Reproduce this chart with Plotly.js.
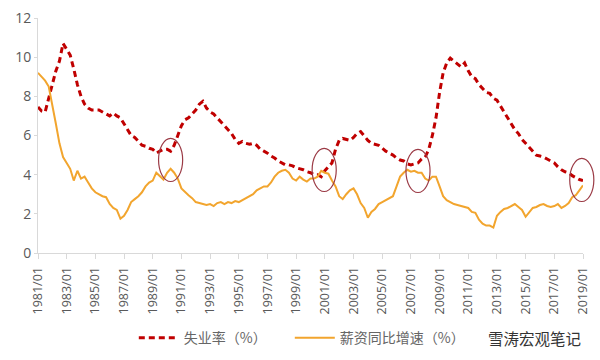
<!DOCTYPE html>
<html><head><meta charset="utf-8">
<script src="https://cdn.plot.ly/plotly-3.0.1.min.js"></script>
<style>html,body{margin:0;padding:0;background:#fff}#chart{width:600px;height:360px}</style>
</head><body><div id="chart"></div>
<script>
// Quarterly readings (Jan, Apr, Jul, Oct) from 1981/01 to 2019/01
const startYear = 1981;
const unemployment = [
  7.45, 7.25, 7.2, 7.9,
  8.6, 9.3, 9.8, 10.7,
  10.4, 10.1, 9.4, 8.6,
  8.0, 7.6, 7.4, 7.3,
  7.3, 7.3, 7.2, 7.1,
  7.0, 7.15, 7.0, 6.9,
  6.6, 6.3, 6.0, 5.9,
  5.7, 5.5, 5.45, 5.35,
  5.3, 5.1, 5.2, 5.3,
  5.3, 5.2, 5.5, 6.0,
  6.5, 6.8, 6.9, 7.1,
  7.3, 7.6, 7.75, 7.4,
  7.2, 7.1, 6.9, 6.7,
  6.55, 6.3, 6.1, 5.8,
  5.6, 5.7, 5.6, 5.55,
  5.6, 5.5, 5.3, 5.2,
  5.1, 4.95, 4.85, 4.7,
  4.6, 4.5, 4.5, 4.45,
  4.35, 4.3, 4.25, 4.15,
  4.1, 4.0, 4.0, 3.9,
  4.2, 4.4, 4.6, 5.3,
  5.75, 5.85, 5.8, 5.75,
  5.9, 6.1, 6.2, 5.95,
  5.75, 5.6, 5.55, 5.5,
  5.35, 5.2, 5.1, 5.0,
  4.85, 4.75, 4.7, 4.55,
  4.5, 4.55, 4.6, 4.8,
  4.9, 5.3, 6.0, 6.9,
  8.2, 9.2, 9.7, 9.95,
  9.8, 9.65, 9.5, 9.7,
  9.3, 9.0, 8.9, 8.6,
  8.4, 8.2, 8.15, 7.9,
  7.8, 7.5, 7.2, 6.9,
  6.6, 6.3, 6.1, 5.8,
  5.6, 5.4, 5.2, 5.0,
  4.95, 4.9, 4.8, 4.7,
  4.6, 4.4, 4.25, 4.15,
  4.1, 3.95, 3.85, 3.75,
  3.7
];
const wageGrowth = [
  9.2, 9.0, 8.8, 8.5,
  7.6, 6.6, 5.6, 4.9,
  4.6, 4.3, 3.7, 4.2,
  3.8, 3.9, 3.6, 3.3,
  3.1, 3.0, 2.9, 2.85,
  2.5, 2.3, 2.2, 1.75,
  1.9, 2.2, 2.6, 2.75,
  2.9, 3.1, 3.4, 3.6,
  3.7, 4.1, 3.9, 3.75,
  4.1, 4.3, 4.1, 3.8,
  3.3, 3.1, 2.95, 2.8,
  2.6, 2.55, 2.5, 2.45,
  2.5, 2.4, 2.55, 2.6,
  2.5, 2.6, 2.55, 2.65,
  2.6, 2.7, 2.8, 2.9,
  3.0, 3.2, 3.3, 3.4,
  3.4, 3.6, 3.9, 4.1,
  4.2, 4.25, 4.1, 3.8,
  3.7, 3.9, 3.75, 3.65,
  3.8, 3.8, 3.9, 4.2,
  4.1, 4.05, 3.7, 3.4,
  2.9, 2.75, 3.0, 3.2,
  3.3, 3.0, 2.55, 2.3,
  1.8, 2.1, 2.25, 2.5,
  2.6, 2.7, 2.8, 2.9,
  3.4, 3.9, 4.1, 4.25,
  4.15, 4.2, 4.1, 4.1,
  3.8, 3.7, 3.9, 3.9,
  3.4, 2.9, 2.7, 2.6,
  2.5, 2.45, 2.4, 2.35,
  2.3, 2.1, 2.05, 1.7,
  1.5, 1.4, 1.4, 1.3,
  1.9, 2.1, 2.25, 2.3,
  2.4, 2.5, 2.35, 2.2,
  1.85, 2.1, 2.3, 2.35,
  2.45, 2.5, 2.4, 2.35,
  2.4, 2.5, 2.3, 2.4,
  2.55, 2.85, 2.95, 3.2,
  3.45
];
const seriesNames = ['失业率（%）', '薪资同比增速（%）'];
// Highlighted crossing points (circled in the reference)
const highlightDates = ['1990-04-01', '2000-12-15', '2007-07-01', '2018-12-01'];
const highlightValues = [4.75, 4.24, 4.19, 3.73];

const xRange = ['1981-01-01', '2019-01-01'];
const yRange = [0, 12];

const dates = unemployment.map((_, i) => {
  const m = i * 3;
  const y = startYear + Math.floor(m / 12);
  const mo = (m % 12) + 1;
  return y + '-' + String(mo).padStart(2, '0') + '-01';
});

// Convert data positions to paper fractions via the axis ranges so the ellipses are not clipped
const ms = d => new Date(d + 'T00:00:00Z').getTime();
const t0 = ms(xRange[0]), t1 = ms(xRange[1]);
const DAY = 86400000;
const halfW = 0.84 * 365.25 * DAY, halfH = 1.1;
const toPx = t => (t - t0) / (t1 - t0);
const toPy = v => (v - yRange[0]) / (yRange[1] - yRange[0]);
const shapes = highlightDates.map((d, i) => {
  const t = ms(d);
  return {
    type: 'circle', xref: 'paper', yref: 'paper',
    x0: toPx(t - halfW), x1: toPx(t + halfW),
    y0: toPy(highlightValues[i] - halfH), y1: toPy(highlightValues[i] + halfH),
    line: {color: '#9b3a45', width: 1.2}
  };
});

const traces = [
  {x: dates, y: unemployment, name: seriesNames[0], type: 'scatter', mode: 'lines',
   legend: 'legend',
   line: {color: '#c00000', width: 3, dash: '6px,4px'}},
  {x: dates, y: wageGrowth, name: seriesNames[1], type: 'scatter', mode: 'lines',
   legend: 'legend2',
   line: {color: '#f2a52e', width: 2}}
];

const legendFont = {family: '"Noto Sans CJK SC", sans-serif', size: 14, color: '#666'};
const layout = {
  width: 600, height: 360,
  margin: {l: 38, r: 17, t: 18, b: 107},
  paper_bgcolor: '#fff', plot_bgcolor: '#fff',
  font: {family: '"Open Sans", "Noto Sans CJK SC", sans-serif', color: '#595959', size: 13},
  showlegend: true,
  legend: {orientation: 'h', xref: 'container', yref: 'container', x: 0.223, xanchor: 'left',
           y: 0.061, yanchor: 'middle', font: legendFont, itemwidth: 40, bgcolor: 'rgba(0,0,0,0)'},
  legend2: {orientation: 'h', xref: 'container', yref: 'container', x: 0.483, xanchor: 'left',
           y: 0.061, yanchor: 'middle', font: legendFont, itemwidth: 40, bgcolor: 'rgba(0,0,0,0)'},
  xaxis: {
    type: 'date', range: xRange, automargin: false,
    tick0: xRange[0], dtick: 'M24', tickformat: '%Y/%m', tickangle: -90,
    showgrid: false, zeroline: false, showline: true, linecolor: '#d9d9d9', linewidth: 1,
    ticks: 'outside', ticklen: 5, tickcolor: '#d9d9d9', ticklabelstandoff: 3,
    tickfont: {size: 12.5, color: '#595959'}
  },
  yaxis: {
    range: yRange, dtick: 2, showgrid: false, zeroline: false, automargin: false,
    showline: true, linecolor: '#d9d9d9', linewidth: 1,
    ticks: 'outside', ticklen: 3, tickcolor: '#d9d9d9',
    tickfont: {size: 14, color: '#595959'}
  },
  shapes: shapes,
  annotations: [
    {xref: 'paper', yref: 'paper', x: 1.0, y: -0.362, xanchor: 'right', yanchor: 'middle',
     text: '雪涛宏观笔记', showarrow: false,
     font: {family: '"Noto Sans CJK SC", sans-serif', size: 15.5, color: '#333'}}
  ]
};

Plotly.newPlot('chart', traces, layout, {displayModeBar: false, staticPlot: true});
</script>
</body></html>
